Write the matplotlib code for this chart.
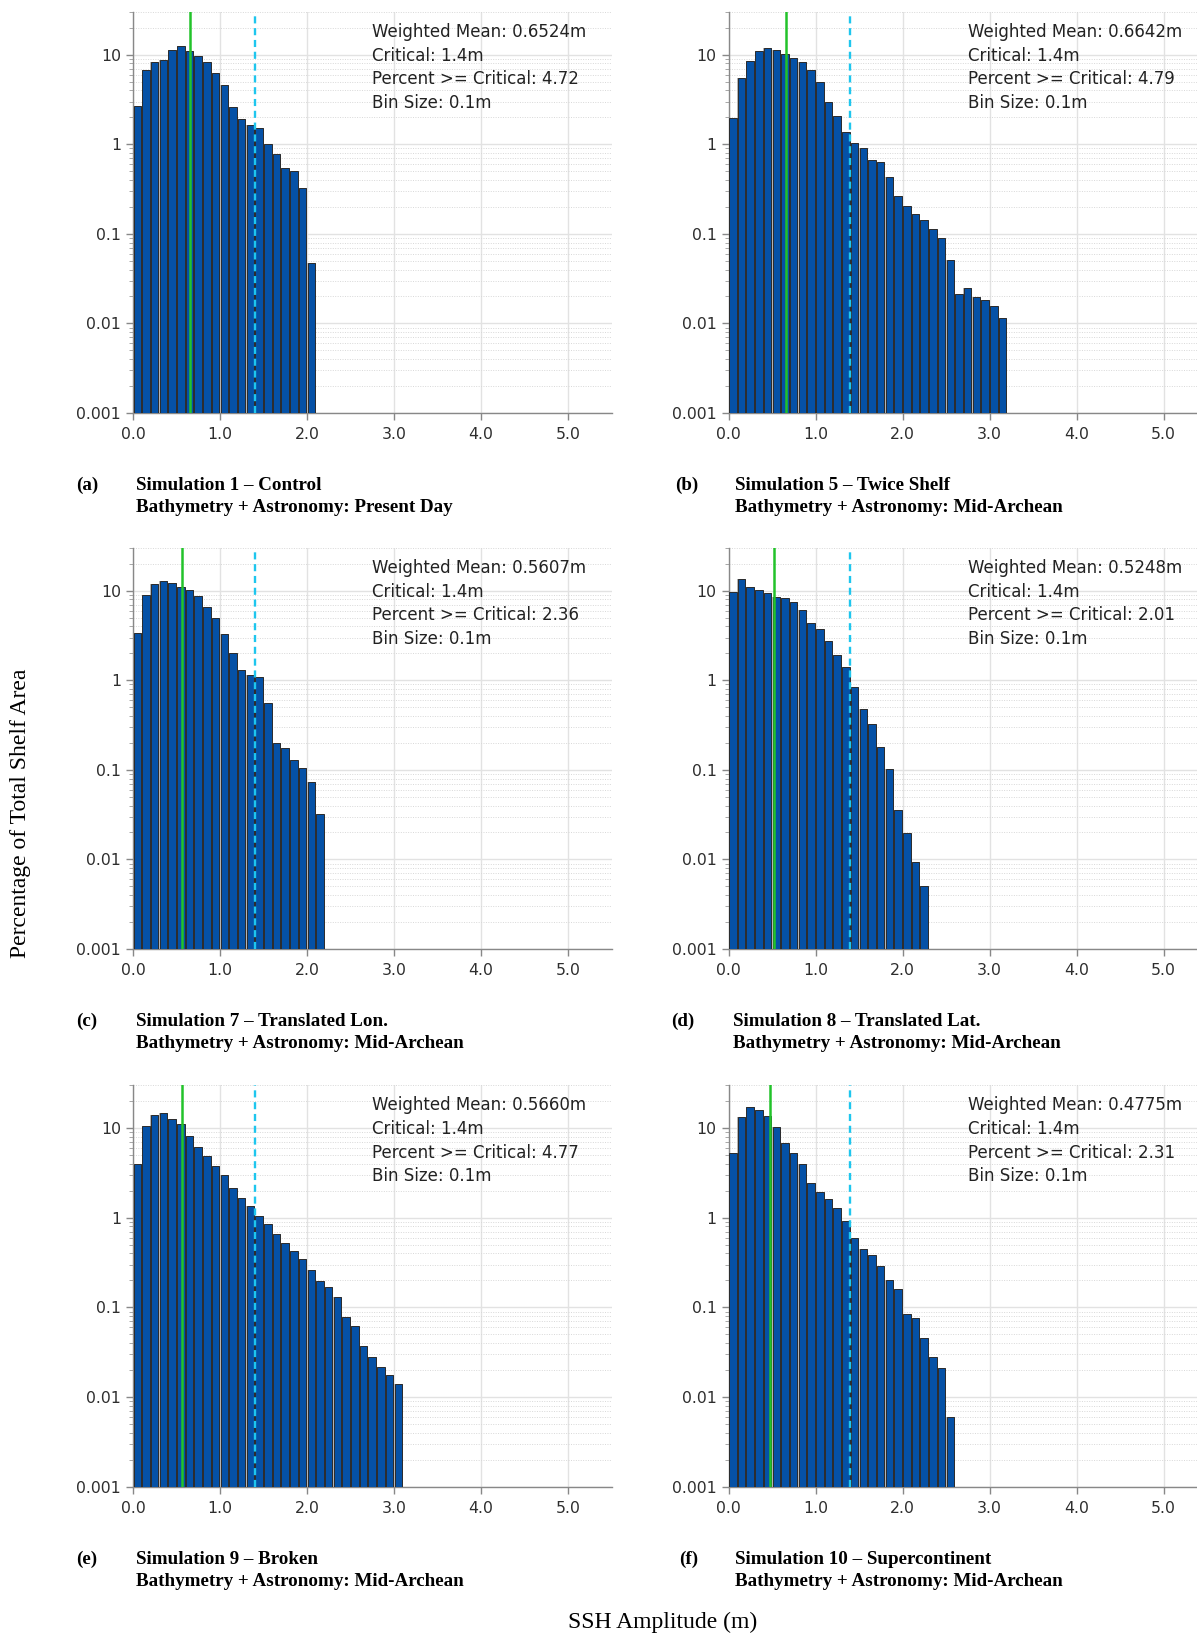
import matplotlib
matplotlib.use("Agg")
import matplotlib.pyplot as plt
import numpy as np
from matplotlib.ticker import FixedLocator, FixedFormatter, LogLocator, NullFormatter

plt.rcParams["font.family"] = ["DejaVu Sans"]

W, H = 1197, 1635
BIN = 0.1

vals_a = [2.66, 6.8, 8.2, 8.8, 11.3, 12.6, 11.1, 9.6, 8.2, 6.3, 4.6, 2.63, 1.93, 1.66, 1.52,
          1.02, 0.773, 0.549, 0.508, 0.323, 0.0478]
vals_b = [1.98, 5.54, 8.5, 11.0, 11.9, 11.4, 10.2, 9.3, 8.4, 6.8, 4.91, 2.97, 2.09, 1.36, 1.04,
          0.918, 0.675, 0.635, 0.436, 0.263, 0.204, 0.166, 0.142, 0.113, 0.0902, 0.0517,
          0.0212, 0.0250, 0.0197, 0.0181, 0.0157, 0.0114]
vals_c = [3.38, 9.04, 12.0, 13.0, 12.3, 11.0, 10.1, 8.8, 6.5, 4.97, 3.26, 2.02, 1.32, 1.16, 1.10,
          0.554, 0.200, 0.177, 0.130, 0.104, 0.0727, 0.0319]
vals_d = [9.67, 13.4, 11.0, 10.3, 9.42, 8.57, 8.28, 7.41, 6.04, 4.32, 3.71, 2.77, 1.93, 1.42,
          0.850, 0.483, 0.329, 0.179, 0.101, 0.0358, 0.0197, 0.00934, 0.0050]
vals_e = [3.94, 10.4, 14.0, 14.5, 12.7, 10.9, 8.09, 6.15, 4.84, 3.80, 3.02, 2.16, 1.64, 1.35,
          1.04, 0.850, 0.663, 0.521, 0.421, 0.343, 0.263, 0.195, 0.168, 0.132, 0.0792, 0.0623,
          0.0369, 0.0278, 0.0217, 0.0178, 0.0140]
vals_f = [5.27, 13.1, 16.9, 15.9, 13.4, 10.1, 6.70, 5.18, 3.91, 2.46, 1.92, 1.62, 1.27, 0.910,
          0.593, 0.447, 0.383, 0.286, 0.201, 0.160, 0.0834, 0.0759, 0.0454, 0.0281, 0.0210,
          0.00596]

means = [0.6524, 0.6642, 0.5607, 0.5248, 0.5660, 0.4775]
critical = 1.4
pct_crit = ["4.72", "4.79", "2.36", "2.01", "4.77", "2.31"]
letters = ["(a)", "(b)", "(c)", "(d)", "(e)", "(f)"]
titles = ["Simulation 1 \u2013 Control", "Simulation 5 \u2013 Twice Shelf",
          "Simulation 7 \u2013 Translated Lon.", "Simulation 8 \u2013 Translated Lat.",
          "Simulation 9 \u2013 Broken", "Simulation 10 \u2013 Supercontinent"]
subtitles = ["Bathymetry + Astronomy: Present Day"] + ["Bathymetry + Astronomy: Mid-Archean"] * 5
all_vals = [vals_a, vals_b, vals_c, vals_d, vals_e, vals_f]

ytick_vals = [0.001, 0.01, 0.1, 1, 10]
ytick_labels = ["0.001", "0.01", "0.1", "1", "10"]
xtick_vals = [0, 1, 2, 3, 4, 5]
xtick_labels = ["0.0", "1.0", "2.0", "3.0", "4.0", "5.0"]

fig = plt.figure(figsize=(W / 100, H / 100), dpi=100)

col_left = [133, 728.5]
ax_w = 478.5
rows = [(12, 413), (548, 949), (1085, 1487)]
cap_left = [(76, 136.5), (675, 735), (76, 136.5), (671, 733), (76, 136.5), (679, 735)]
cap_y = [(485, 507), (1021, 1043), (1559, 1581)]

bar_color = "#0551a6"
for i, vals in enumerate(all_vals):
    r, c = divmod(i, 2)
    top, bot = rows[r]
    left = col_left[c]
    ax = fig.add_axes([left / W, 1 - bot / H, ax_w / W, (bot - top) / H])
    x = np.arange(len(vals)) * BIN
    ax.bar(x, vals, width=BIN, align="edge", color="#b4b4b4", linewidth=0, zorder=2)
    ax.bar(x + 0.006, vals, width=BIN * 0.86, align="edge", color=bar_color,
           edgecolor="#2b2b2b", linewidth=0.7, zorder=3)
    ax.set_yscale("log")
    ax.set_ylim(0.001, 30)
    ax.set_xlim(0, 5.5)
    ax.yaxis.set_major_locator(FixedLocator(ytick_vals))
    ax.yaxis.set_major_formatter(FixedFormatter(ytick_labels))
    ax.yaxis.set_minor_locator(LogLocator(base=10, subs=np.arange(2, 10)))
    ax.yaxis.set_minor_formatter(NullFormatter())
    ax.xaxis.set_major_locator(FixedLocator(xtick_vals))
    ax.xaxis.set_major_formatter(FixedFormatter(xtick_labels))
    ax.grid(which="major", color="#e2e2e2", linewidth=1.0, zorder=0)
    ax.grid(which="minor", axis="y", color="#d8d8d8", linewidth=0.7, linestyle=(0, (1, 1.5)), zorder=0)
    for s in ["top", "right"]:
        ax.spines[s].set_visible(False)
    for s in ["left", "bottom"]:
        ax.spines[s].set_color("#888888")
        ax.spines[s].set_linewidth(1.0)
    ax.tick_params(axis="both", which="major", labelsize=11.3, colors="#888888",
                   labelcolor="#2e2e2e", length=5, width=1)
    ax.tick_params(axis="x", which="major", pad=5)
    ax.tick_params(axis="y", which="minor", length=3, colors="#999999")
    ax.set_axisbelow(True)
    ax.axvline(means[i], color="#22c32a", linewidth=1.8, zorder=4)
    ax.axvline(critical, color="#1ec6ee", linewidth=1.7, linestyle=(0, (3, 2)), zorder=4)
    lines = [f"Weighted Mean: {means[i]:.4f}m", f"Critical: {critical}m",
             f"Percent >= Critical: {pct_crit[i]}", f"Bin Size: {BIN}m"]
    hpx = bot - top
    for k, t in enumerate(lines):
        ax.text(0.5, 1 - (19.7 + 23.9 * k) / hpx, t, transform=ax.transAxes,
                fontsize=12, color="#222222", va="center", ha="left", zorder=5)
    lx, tx = cap_left[i]
    y1, y2 = cap_y[r]
    cap_font = dict(family="Liberation Serif", fontweight="bold", fontsize=13.7, color="black")
    fig.text(lx / W, 1 - y1 / H, letters[i], va="center", ha="left", **cap_font)
    fig.text(tx / W, 1 - y1 / H, titles[i], va="center", ha="left", **cap_font)
    fig.text(tx / W, 1 - y2 / H, subtitles[i], va="center", ha="left", **cap_font)

fig.text(21 / W, 1 - 813 / H, "Percentage of Total Shelf Area", rotation=90, va="center",
         ha="center", family="Liberation Serif", fontsize=17)
fig.text(663 / W, 1 - 1622 / H, "SSH Amplitude (m)", va="center", ha="center",
         family="Liberation Serif", fontsize=17)

fig.savefig("out.png", dpi=100, facecolor="white")
